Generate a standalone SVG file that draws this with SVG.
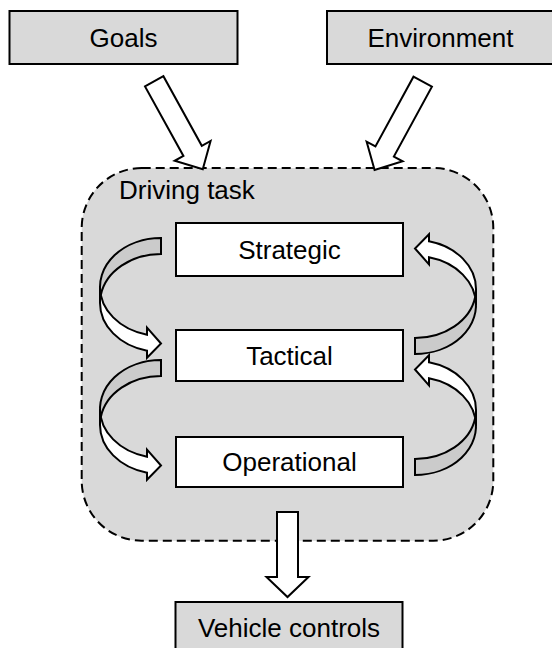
<svg xmlns="http://www.w3.org/2000/svg" xmlns:xlink="http://www.w3.org/1999/xlink" width="552" height="648" viewBox="0 0 552 648">
<style>
  .lbl { font-family: "Liberation Sans", Arial, sans-serif; font-size: 26px; fill: #000; text-anchor: middle; }
  .outer { fill: #d9d9d9; stroke: #000; stroke-width: 2; }
  .inner { fill: #fff; stroke: #000; stroke-width: 2; }
  .container { fill: #d9d9d9; stroke: #000; stroke-width: 2; stroke-dasharray: 9 5; }
  .block { fill: #fff; stroke: #000; stroke-width: 2; stroke-linejoin: miter; }
  .front { fill: #fff; stroke: #000; stroke-width: 2; }
  .back { fill: #cbcbcb; stroke: #000; stroke-width: 2; }
</style>
<defs>
  <polygon id="blockArrow" class="block" points="-10.5,0 10.5,0 10.5,79.5 20.5,79.5 0,100.5 -20.5,79.5 -10.5,79.5"/>
  <g id="curvedArrow">
    <path class="front" d="M0,49 A61,49 0 0 0 47,96.7 L47,89.7 L61,105.5 L47,119.7 L47,112.7 A61,49 0 0 1 0,65 Z"/>
    <path class="back" d="M61,16 A61,49 0 0 0 0.82,57 A61,49 0 0 1 61,0 Z"/>
  </g>
</defs>

<g id="driving-task">
  <rect class="container" x="81.7" y="168" width="411.6" height="372.7" rx="60" ry="60"/>
  <text class="lbl" x="119" y="199" style="text-anchor:start">Driving task</text>
</g>

<g id="goals">
  <rect class="outer" x="9.5" y="11" width="228" height="53"/>
  <text class="lbl" x="123.5" y="46.8">Goals</text>
</g>

<g id="environment">
  <rect class="outer" x="327" y="11" width="228" height="53"/>
  <text class="lbl" x="440.5" y="46.8">Environment</text>
</g>

<g id="strategic">
  <rect class="inner" x="176" y="223" width="227" height="53"/>
  <text class="lbl" x="289.5" y="258.8">Strategic</text>
</g>

<g id="tactical">
  <rect class="inner" x="176" y="330" width="227" height="51"/>
  <text class="lbl" x="289.5" y="364.8">Tactical</text>
</g>

<g id="operational">
  <rect class="inner" x="176" y="437" width="227" height="50"/>
  <text class="lbl" x="289.5" y="471.3">Operational</text>
</g>

<g id="vehicle-controls">
  <rect class="outer" x="175.5" y="602" width="227" height="55"/>
  <text class="lbl" x="289" y="636.7">Vehicle controls</text>
</g>

<g id="connectors">
  <use xlink:href="#blockArrow" href="#blockArrow" transform="translate(154.2,81.3) rotate(-28.9)"/>
  <use xlink:href="#blockArrow" href="#blockArrow" transform="translate(422.7,81.7) rotate(28.6)"/>
  <polygon class="block" points="277,512 298,512 298,577 308.5,577 287.5,597 266.5,577 277,577"/>
  <use xlink:href="#curvedArrow" href="#curvedArrow" transform="translate(100,238)"/>
  <use xlink:href="#curvedArrow" href="#curvedArrow" transform="translate(100,360)"/>
  <use xlink:href="#curvedArrow" href="#curvedArrow" transform="translate(476,354) rotate(180)"/>
  <use xlink:href="#curvedArrow" href="#curvedArrow" transform="translate(476,475) rotate(180)"/>
</g>
</svg>
